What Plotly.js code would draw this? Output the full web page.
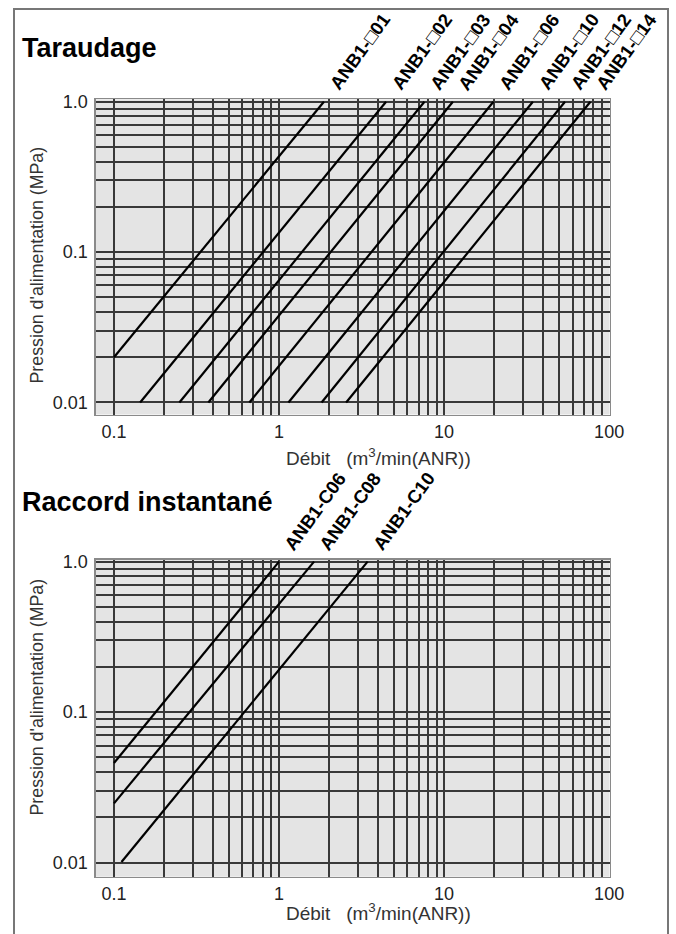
<!DOCTYPE html>
<html>
<head>
<meta charset="utf-8">
<script src="https://cdn.plot.ly/plotly-3.0.1.min.js"></script>
<style>
  html, body { margin: 0; padding: 0; background: #fff; }
  #wrap { position: relative; width: 676px; height: 934px; overflow: hidden; }
  #chart { width: 676px; height: 934px; }
  #frame { position: absolute; left: 13px; top: 8px; width: 656px; height: 960px;
           border: 2px solid #777; pointer-events: none; box-sizing: border-box; }
</style>
</head>
<body>
<div id="wrap">
  <div id="chart"></div>
  <div id="frame"></div>
</div>
<script>
// ---------- data ----------
const topNames = ['ANB1-\u25A101', 'ANB1-\u25A102', 'ANB1-\u25A103', 'ANB1-\u25A104',
                  'ANB1-\u25A106', 'ANB1-\u25A110', 'ANB1-\u25A112', 'ANB1-\u25A114'];
const topFlowStart = [0.1, 0.144, 0.249, 0.373, 0.661, 1.14, 1.81, 2.55];
const topPressStart = [0.02, 0.01, 0.01, 0.01, 0.01, 0.01, 0.01, 0.01];
const topFlowEnd = [1.87, 4.45, 7.6, 11.3, 19.9, 34.5, 54, 77];
const topPressEnd = [1.0, 1.0, 1.0, 1.0, 1.0, 1.0, 1.0, 1.0];

const botNames = ['ANB1-C06', 'ANB1-C08', 'ANB1-C10'];
const botFlowStart = [0.1, 0.1, 0.111];
const botPressStart = [0.046, 0.0248, 0.0101];
const botFlowEnd = [1.0, 1.63, 3.44];
const botPressEnd = [1.0, 1.0, 1.0];

const xTickVals = [0.1, 1, 10, 100];
const xTickText = ['0.1', '1', '10', '100'];
const xMinorVals = [0.2, 0.3, 0.4, 0.5, 0.6, 0.7, 0.8, 0.9,
                    2, 3, 4, 5, 6, 7, 8, 9,
                    20, 30, 40, 50, 60, 70, 80, 90];
const yTickVals = [0.01, 0.1, 1.0];
const yTickText = ['0.01', '0.1', '1.0'];
const yMinorVals = [0.02, 0.03, 0.04, 0.05, 0.06, 0.07, 0.08, 0.09,
                    0.2, 0.3, 0.4, 0.5, 0.6, 0.7, 0.8, 0.9];

const titleTop = 'Taraudage';
const titleBot = 'Raccord instantané';
const xTitle = 'Débit\u00A0\u00A0\u00A0(m<sup>3</sup>/min(ANR))';
const yTitle = "Pression d'alimentation (MPa)";

// ---------- build ----------
const W = 676, H = 934;
const FONT = 'Liberation Sans, Arial, Helvetica, DejaVu Sans, sans-serif';
const traces = [];
function addLines(xs0, ys0, xs1, ys1, xa, ya) {
  for (let i = 0; i < xs0.length; i++) {
    traces.push({
      type: 'scatter', mode: 'lines',
      x: [xs0[i], xs1[i]], y: [ys0[i], ys1[i]],
      xaxis: xa, yaxis: ya,
      line: { color: '#000', width: 2.2 },
      hoverinfo: 'skip', showlegend: false
    });
  }
}
addLines(topFlowStart, topPressStart, topFlowEnd, topPressEnd, 'x', 'y');
addLines(botFlowStart, botPressStart, botFlowEnd, botPressEnd, 'x2', 'y2');

const annotations = [];
function addLabels(names, xs, ys, xref, yref) {
  for (let i = 0; i < names.length; i++) {
    annotations.push({
      text: '<b>' + names[i] + '</b>',
      x: Math.log10(xs[i]), y: Math.log10(ys[i]),
      xref: xref, yref: yref, showarrow: false,
      textangle: -54, xshift: 36, yshift: 50,
      font: { family: FONT, size: 18.5, color: '#000' }
    });
  }
}
addLabels(topNames, topFlowEnd, topPressEnd, 'x', 'y');
addLabels(botNames, botFlowEnd, botPressEnd, 'x2', 'y2');

function px2x(p) { return p / W; }
function px2y(p) { return 1 - p / H; }

function textNote(text, xpx, ypx, size, color, anchor, angle) {
  annotations.push({ text: text, xref: 'paper', yref: 'paper',
    x: px2x(xpx), y: px2y(ypx), xanchor: anchor, yanchor: 'middle',
    showarrow: false, textangle: angle || 0,
    font: { family: FONT, size: size, color: color } });
}
textNote('<b>' + titleTop + '</b>', 20, 48, 27, '#000', 'left');
textNote('<b>' + titleBot + '</b>', 20, 502, 27, '#000', 'left');
textNote(xTitle, 284, 457, 19, '#333', 'left');
textNote(xTitle, 284, 912, 19, '#333', 'left');
textNote(yTitle, 36.5, 265, 17.8, '#333', 'center', -90);
textNote(yTitle, 36.5, 697, 17.8, '#333', 'center', -90);

const xDom = [px2x(96), px2x(609.5)];
const GRIDC = '#383838', GRIDW = 2;
function common(vals, text, minorVals) {
  return {
    type: 'log', tickmode: 'array', tickvals: vals, ticktext: text,
    tickfont: { family: FONT, size: 18, color: '#222' }, ticks: '',
    showgrid: true, gridcolor: GRIDC, gridwidth: GRIDW,
    minor: { tickmode: 'array', tickvals: minorVals, ticks: '',
             showgrid: true, gridcolor: GRIDC, gridwidth: GRIDW },
    showline: true, mirror: true, linecolor: '#8a8a8a', linewidth: 1.6,
    zeroline: false, fixedrange: true
  };
}
function xAxis(anchor) {
  return Object.assign(common(xTickVals, xTickText, xMinorVals), {
    domain: xDom, anchor: anchor,
    range: [Math.log10(0.0778), Math.log10(100.5)],
    ticklabelstandoff: 0
  });
}
function yAxis(anchor, dom, rng) {
  return Object.assign(common(yTickVals, yTickText, yMinorVals), {
    domain: dom, anchor: anchor, range: rng, ticklabelstandoff: 3
  });
}

const layout = {
  width: W, height: H,
  margin: { l: 0, r: 0, t: 0, b: 0 },
  paper_bgcolor: '#fff', plot_bgcolor: '#e4e4e4',
  showlegend: false,
  xaxis: xAxis('y'),
  yaxis: yAxis('x', [px2y(414.5), px2y(99.3)], [-2.080, 0.016]),
  xaxis2: xAxis('y2'),
  yaxis2: yAxis('x2', [px2y(876.7), px2y(560)], [-2.093, 0.011]),
  annotations: annotations
};

Plotly.newPlot('chart', traces, layout, { staticPlot: true, displayModeBar: false });
</script>
</body>
</html>
